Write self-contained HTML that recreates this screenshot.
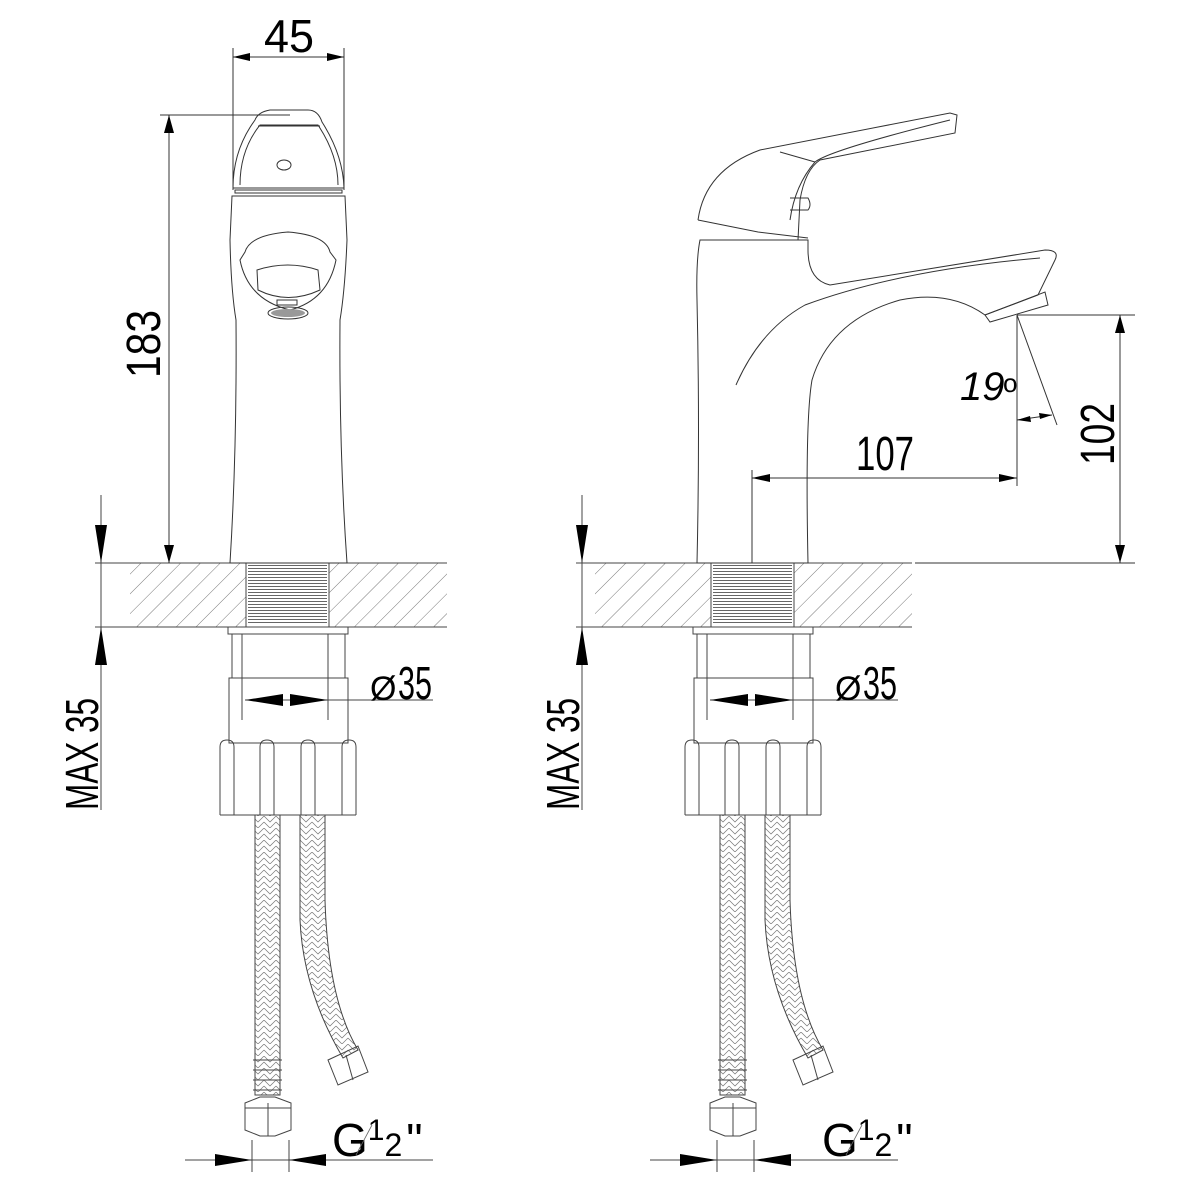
<!DOCTYPE html>
<html><head><meta charset="utf-8"><style>html,body{margin:0;padding:0;background:#fff}svg{display:block}
text{font-family:"Liberation Sans Narrow","Liberation Sans",sans-serif;fill:#000}</style></head>
<body>
<svg width="1200" height="1200" viewBox="0 0 1200 1200" xmlns="http://www.w3.org/2000/svg">
<defs>
<pattern id="hatch" width="14" height="14" patternUnits="userSpaceOnUse" patternTransform="rotate(45)">
<line x1="0" y1="0" x2="0" y2="14" stroke="#555" stroke-width="0.8"/></pattern>
<pattern id="thr" width="6" height="3" patternUnits="userSpaceOnUse">
<line x1="0" y1="1.5" x2="6" y2="1.5" stroke="#666" stroke-width="1"/></pattern>
<pattern id="braid" width="12" height="12" patternUnits="userSpaceOnUse">
<path d="M0 0 L6 6 L12 0 M0 6 L6 12 L12 6" fill="none" stroke="#777" stroke-width="0.7"/></pattern>
<g id="lower" fill="none" stroke="#444" stroke-width="1">
<rect x="-158" y="563" width="317" height="64" fill="url(#hatch)" stroke="none"/>
<line x1="-158" y1="563" x2="159" y2="563"/>
<line x1="-158" y1="627" x2="159" y2="627"/>
<rect x="-42" y="563" width="83" height="64" fill="#fff"/>
<rect x="-40" y="565" width="79" height="60" fill="url(#thr)" stroke="none"/>
<rect x="-60" y="627" width="120" height="7"/>
<rect x="-56" y="634" width="113" height="44"/>
<rect x="-59" y="678" width="119" height="65"/>
<path d="M-68 815 V747 q0-7 7-7 q7 0 7 7 V815 M-28 815 V747 q0-7 7-7 q7 0 7 7 V815 M13 815 V747 q0-7 7-7 q7 0 7 7 V815 M54 815 V747 q0-7 7-7 q7 0 7 7 V815 M-68 815 H68"/>
<line x1="-46" y1="634" x2="-46" y2="720"/><line x1="40" y1="634" x2="40" y2="720"/>
<rect x="-33" y="815" width="25" height="280" fill="url(#braid)"/>
<path d="M12 815 H37 V900 Q40 1000 70 1050 L55 1058 Q15 990 12 920 Z" fill="url(#braid)"/>
<path d="M-35 1060 H-6 M-35 1070 H-6 M-35 1080 H-6 M-35 1090 H-6" />
<path d="M-43 1103 L-28 1097 H-13 L3 1103 V1130 L-13 1136 H-28 L-43 1130 Z M-20 1103 V1136 M-43 1108 H3"/>
<path d="M40 1060 L70 1046 L80 1072 L50 1085 Z M58 1055 L65 1080"/>
<line x1="-43" y1="700" x2="145" y2="700"/>
<path d="M-43 700 L-5 694 V706 Z M40 700 L2 694 V706 Z" fill="#000" stroke="none"/>
<line x1="-36" y1="1140" x2="-36" y2="1172"/><line x1="1" y1="1140" x2="1" y2="1172"/>
<line x1="-103" y1="1160" x2="145" y2="1160"/>
<path d="M-36 1160 L-73 1154 V1166 Z M1 1160 L38 1154 V1166 Z" fill="#000" stroke="none"/>
</g>
</defs>

<use href="#lower" x="288" y="0"/>
<use href="#lower" x="753" y="0"/>

<g font-size="48">
<text x="370" y="700" font-size="34" fill="#666">Ø</text>
<text x="398" y="699" textLength="34" lengthAdjust="spacingAndGlyphs" font-size="46">35</text>
<text x="835" y="700" font-size="34" fill="#666">Ø</text>
<text x="863" y="699" textLength="34" lengthAdjust="spacingAndGlyphs" font-size="46">35</text>
<text x="332" y="1156" font-size="46">G<tspan font-size="30" dy="-16">1</tspan><tspan font-size="32" dy="16">2</tspan><tspan dx="4">"</tspan></text>
<text x="822" y="1156" font-size="46">G<tspan font-size="30" dy="-16">1</tspan><tspan font-size="32" dy="16">2</tspan><tspan dx="4">"</tspan></text>
</g>
<g stroke="#666" stroke-width="0.8"><line x1="356" y1="1155" x2="372" y2="1125"/><line x1="846" y1="1155" x2="862" y2="1125"/></g>

<g stroke="#444" stroke-width="1" fill="none">
<line x1="101" y1="495" x2="101" y2="810"/><line x1="582" y1="495" x2="582" y2="810"/>
<line x1="95" y1="563" x2="130" y2="563"/><line x1="95" y1="627" x2="130" y2="627"/>
<line x1="576" y1="563" x2="595" y2="563"/><line x1="576" y1="627" x2="595" y2="627"/>
</g>
<path d="M101 563 L95 525 H107 Z M101 627 L95 665 H107 Z M582 563 L576 525 H588 Z M582 627 L576 665 H588 Z" fill="#000"/>
<text transform="translate(98,810) rotate(-90)" font-size="46" textLength="112" lengthAdjust="spacingAndGlyphs">MAX  35</text>
<text transform="translate(579,810) rotate(-90)" font-size="46" textLength="112" lengthAdjust="spacingAndGlyphs">MAX  35</text>

<g fill="none" stroke="#333" stroke-width="1">
<line x1="233" y1="48" x2="233" y2="190"/><line x1="344" y1="48" x2="344" y2="190"/>
<line x1="233" y1="57" x2="344" y2="57"/>
<line x1="160" y1="115" x2="290" y2="115"/>
<line x1="169" y1="115" x2="169" y2="563"/>
<path d="M233 188 Q233 150 255 120 Q258 112 270 110 H308 Q318 110 322 122 Q343 155 344 188 Z"/>
<path d="M240 185 Q240 150 260 125 H318 Q338 155 338 185"/>
<line x1="258" y1="126" x2="320" y2="126"/>
<ellipse cx="284" cy="165" rx="7" ry="5"/>
<path d="M235 190 H342 V193 H235 Z"/>
<path d="M232 196 H345 Q346 220 347 240 Q345 290 340 320 Q339 450 347 563 H230 Q237 450 236 320 Q231 290 230 240 Q231 220 232 196 Z"/>
<path d="M245 252 Q250 235 288 232 Q326 235 330 252 L336 260 Q328 300 290 310 Q248 300 240 260 Z"/>
<path d="M257 270 Q288 260 318 270 L320 290 Q288 305 258 290 Z"/>
<ellipse cx="288" cy="313" rx="20" ry="6"/>
<rect x="277" y="300" width="20" height="5"/>
</g>
<ellipse cx="288" cy="313" rx="17" ry="4" fill="#999"/>
<path d="M233 57 L250 53 V61 Z M344 57 L327 53 V61 Z M169 115 L164 133 H174 Z M169 563 L164 545 H174 Z" fill="#000"/>
<text x="264" y="52" font-size="46" textLength="50" lengthAdjust="spacingAndGlyphs">45</text>
<text transform="translate(160,378) rotate(-90)" font-size="48" textLength="68" lengthAdjust="spacingAndGlyphs">183</text>

<g fill="none" stroke="#333" stroke-width="1">
<path d="M697 563 Q700 430 697 300 Q696 260 700 240 H808 V250 Q808 280 830 285 L1045 250 Q1060 250 1055 260 L1038 295 L985 315 Q950 290 900 300 Q830 320 812 380 Q805 420 808 563 Z"/>
<path d="M736 385 Q760 330 805 305 Q900 270 1040 258"/>
<path d="M985 315 L1045 292 L1048 305 L990 322 Z"/>
<path d="M698 220 Q705 170 760 150 L950 113 L957 115 L955 133 L820 160 Q805 170 800 200 L798 240"/>
<path d="M698 220 L758 232 L808 238"/>
<path d="M780 152 L815 162 M790 220 Q795 185 815 162 Q830 150 950 120"/>
<path d="M790 198 H808 Q812 205 808 210 H790"/>
<line x1="752" y1="470" x2="752" y2="563"/>
<line x1="1017" y1="315" x2="1017" y2="486"/>
<line x1="752" y1="478" x2="1017" y2="478"/>
<line x1="1017" y1="315" x2="1135" y2="315"/>
<line x1="915" y1="563" x2="1135" y2="563"/>
<line x1="1120" y1="315" x2="1120" y2="563"/>
<line x1="1017" y1="315" x2="1057" y2="425"/>
<line x1="1017" y1="420" x2="1052" y2="415"/>
</g>
<path d="M752 478 L770 474 V482 Z M1017 478 L999 474 V482 Z M1120 315 L1115 333 H1125 Z M1120 563 L1115 545 H1125 Z M1017 420 L1030 416 L1031 422 Z M1052 415 L1039 413 L1040 419 Z" fill="#000"/>
<text x="856" y="470" font-size="48" textLength="58" lengthAdjust="spacingAndGlyphs">107</text>
<text transform="translate(1114,465) rotate(-90)" font-size="48" textLength="62" lengthAdjust="spacingAndGlyphs">102</text>
<text x="960" y="400" font-size="40" font-style="italic">19</text>
<text x="1003" y="392" font-size="26">o</text>
</svg>
</body></html>
